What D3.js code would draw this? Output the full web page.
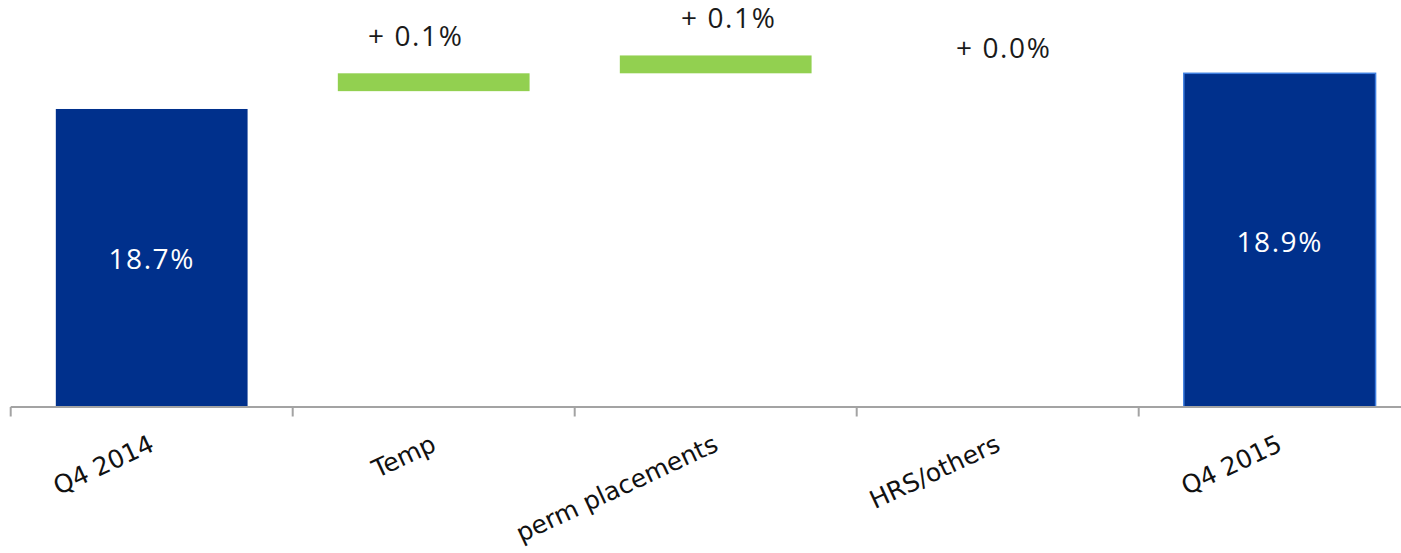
<!DOCTYPE html>
<html>
<head>
<meta charset="utf-8">
<script src="https://cdn.jsdelivr.net/npm/d3@7/dist/d3.min.js"></script>
<style>
  html, body { margin: 0; padding: 0; background: #ffffff; }
  svg { display: block; }
</style>
</head>
<body>
<svg id="chart" width="1401" height="553"></svg>
<script>
// Waterfall: EBITA margin bridge, Q4 2014 -> Q4 2015 (in %)
const categories = ["Q4 2014", "Temp", "perm placements", "HRS/others", "Q4 2015"];
const kinds      = ["total", "step", "step", "step", "total"];
// For totals: the level reached; for steps: the change
const values     = [18.7, 0.1, 0.1, 0.0, 18.9];
// Level each step bar starts from
const stepStarts = [null, 18.8, 18.9, 18.83, null];
const valueLabels = ["18.7%", "+ 0.1%", "+ 0.1%", "+ 0.0%", "18.9%"];

const W = 1401, H = 553;
const axisY = 407;
const yFloor = 17.03;

const svg = d3.select("#chart");

const x = d3.scaleBand()
  .domain(categories)
  .range([10.7, 1420.7])
  .paddingInner(0.32)
  .paddingOuter(0.16);

const y = d3.scaleLinear()
  .domain([yFloor, 18.9])
  .range([axisY, 73.3]);

const rows = categories.map((c, i) => {
  if (kinds[i] === "total") {
    return { c, i, kind: "total", lo: yFloor, hi: values[i], label: valueLabels[i] };
  }
  const s = stepStarts[i];
  return { c, i, kind: "step", lo: Math.min(s, s + values[i]), hi: Math.max(s, s + values[i]), label: valueLabels[i] };
});

// bars
svg.append("g").selectAll("rect")
  .data(rows.filter(d => d.hi - d.lo > 0))
  .join("rect")
  .attr("x", d => x(d.c))
  .attr("width", x.bandwidth())
  .attr("y", d => y(d.hi))
  .attr("height", d => y(d.lo) - y(d.hi))
  .attr("fill", d => d.kind === "total" ? "#00308c" : "#92d050")
  .attr("stroke", d => d.i === 4 ? "#3f7fe0" : "none")
  .attr("stroke-width", d => d.i === 4 ? 1.5 : 0);

// category axis: baseline with ticks at the band boundaries
const step = x.step();
const x0 = x(categories[0]) - step * x.paddingOuter();
const axis = svg.append("g").attr("stroke", "#a3a3a3").attr("stroke-width", 2);
axis.append("line")
  .attr("x1", x0).attr("x2", W)
  .attr("y1", axisY).attr("y2", axisY);
axis.selectAll("line.tick")
  .data(d3.range(categories.length + 1))
  .join("line")
  .attr("class", "tick")
  .attr("x1", i => x0 + i * step).attr("x2", i => x0 + i * step)
  .attr("y1", axisY).attr("y2", axisY + 9.5);

// rotated category labels
svg.append("g").selectAll("text")
  .data(categories)
  .join("text")
  .attr("transform", c => `translate(${x(c) + x.bandwidth() / 2 + 4},${axisY + 43}) rotate(-25)`)
  .attr("text-anchor", "end")
  .attr("font-family", "'DejaVu Sans', Verdana, sans-serif")
  .attr("font-size", 25)
  .attr("fill", "#111")
  .text(c => c);

// value labels: inside total bars, above step bars
const labelFont = "'Open Sans', 'Noto Sans', sans-serif";
const stepLabelNudge = [0, -18, 13, 6, 0];
svg.append("g").selectAll("text")
  .data(rows)
  .join("text")
  .attr("x", d => x(d.c) + x.bandwidth() / 2 + stepLabelNudge[d.i])
  .attr("y", d => d.kind === "total"
      ? (y(d.hi) + y(d.lo)) / 2 + 11.5
      : y(d.hi) - 27.5)
  .attr("text-anchor", "middle")
  .attr("font-family", labelFont)
  .attr("font-size", 28)
  .attr("letter-spacing", "1.6px")
  .attr("fill", d => d.kind === "total" ? "#ffffff" : "#1a1a1a")
  .text(d => d.label);
</script>
</body>
</html>
